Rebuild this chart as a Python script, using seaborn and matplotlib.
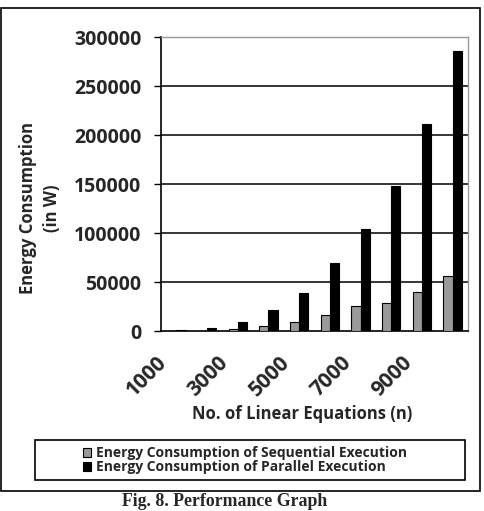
import matplotlib
matplotlib.use("Agg")
import matplotlib.pyplot as plt
import matplotlib.patches as mpatches
import matplotlib.transforms as mtransforms
import seaborn as sns
import pandas as pd
import numpy as np

# values
equations = [1000, 2000, 3000, 4000, 5000, 6000, 7000, 8000, 9000, 10000]
sequential = [100, 300, 1700, 4800, 9200, 16800, 26000, 28700, 39700, 56400]
parallel = [600, 3000, 9200, 21200, 38300, 69100, 104300, 147800, 211700, 285600]
series_names = ["Energy Consumption of Sequential Execution",
                "Energy Consumption of Parallel Execution"]
y_ticks = [0, 50000, 100000, 150000, 200000, 250000, 300000]

df = pd.DataFrame({
    "n": equations * 2,
    "energy": sequential + parallel,
    "series": [series_names[0]] * len(equations) + [series_names[1]] * len(equations),
})
df["n"] = df["n"].astype(str)

sns.set_style("white")
plt.rcParams["font.family"] = ["Open Sans", "DejaVu Sans"]
plt.rcParams["font.weight"] = "bold"

fig = plt.figure(figsize=(4.85, 5.11), dpi=100)
ax = fig.add_axes([161 / 485, 1 - 331 / 511, (468 - 161) / 485, (331 - 37) / 511])

sns.barplot(data=df, x="n", y="energy", hue="series", ax=ax,
            palette=["#9a9a9a", "#000000"], width=0.6, gap=0,
            edgecolor="black", linewidth=0.8, legend=False, zorder=3)

ax.set_ylim(0, 300000)
ax.set_xlim(-0.5, len(equations) - 0.5)
ax.set_yticks(y_ticks)
ax.set_yticklabels([str(v) for v in y_ticks], fontsize=14, fontweight="bold")
for v in y_ticks[1:]:
    ax.axhline(v, color="black", lw=1.1, zorder=1)

# category boundaries as minor ticks, labels on every other category
ax.set_xticks(np.arange(-0.5, len(equations), 1.0), minor=True)
ax.set_xticks(range(0, len(equations), 2))
ax.tick_params(axis="x", which="major", length=0, pad=15)
ax.tick_params(axis="x", which="minor", length=5, width=1, color="black", direction="out")
ax.tick_params(axis="y", length=5, width=1, color="black", direction="out", left=True, pad=9)
ax.set_xticklabels([str(equations[i]) for i in range(0, len(equations), 2)],
                   rotation=45, ha="right", va="top", rotation_mode="anchor",
                   fontsize=15, fontweight="bold")
shift = mtransforms.ScaledTranslation(-20 / 100, 0, fig.dpi_scale_trans)
for lab in ax.get_xticklabels():
    lab.set_transform(lab.get_transform() + shift)
ax.set_xlabel("")
ax.set_ylabel("")

for side in ["left", "bottom"]:
    ax.spines[side].set_color("black")
    ax.spines[side].set_linewidth(1.2)
for side in ["top", "right"]:
    ax.spines[side].set_visible(True)
    ax.spines[side].set_color("#999999")
    ax.spines[side].set_linewidth(1)

fig.text(40 / 485, 1 - 208 / 511, "Energy Consumption\n(in W)", rotation=90,
         ha="center", va="center", multialignment="center", linespacing=1.4,
         fontsize=12, fontweight="bold")
fig.text(302 / 485, 1 - 414 / 511, "No. of Linear Equations (n)",
         ha="center", va="center", fontsize=12, fontweight="bold")

# legend box
fig.patches.append(mpatches.Rectangle((35 / 485, 1 - 480 / 511), 430 / 485, 40 / 511,
                                      transform=fig.transFigure, fill=False,
                                      edgecolor="black", lw=1.2))
handles = [mpatches.Patch(facecolor="#9a9a9a", edgecolor="black", lw=0.8),
           mpatches.Patch(facecolor="black", edgecolor="black", lw=0.8)]
fig.legend(handles, series_names, loc="center", bbox_to_anchor=(245 / 485, 1 - 460 / 511),
           frameon=False, handlelength=0.6, handleheight=0.6, handletextpad=0.4,
           labelspacing=0.0, prop={"size": 10, "weight": "bold"})

# outer chart frame
fig.patches.append(mpatches.Rectangle((0.5 / 485, 1 - 491 / 511), 480 / 485, 483 / 511,
                                      transform=fig.transFigure, fill=False,
                                      edgecolor="black", lw=1.2))

fig.text(225 / 485, 1 - 502 / 511, "Fig. 8. Performance Graph", ha="center", va="center",
         family=["Liberation Serif", "DejaVu Serif"], fontsize=12.8, fontweight="bold")

fig.savefig("out.png", dpi=100)
